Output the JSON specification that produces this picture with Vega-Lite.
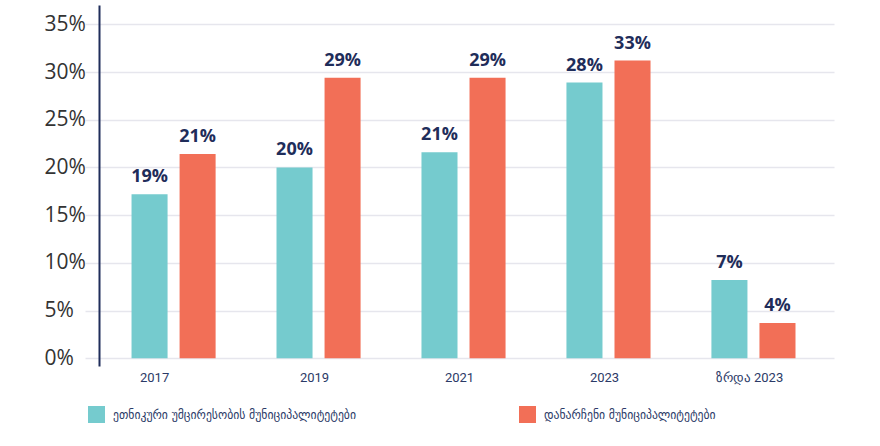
{
  "$schema": "https://vega.github.io/schema/vega-lite/v6.json",
  "autosize": {"type": "none"},
  "width": 735,
  "height": 361,
  "padding": {"left": 99, "top": 5, "right": 46, "bottom": 80},
  "background": "white",
  "config": {"view": {"stroke": null}},
  "data": {
    "values": [
      {"category": "2017", "group": "ეთნიკური უმცირესობის მუნიციპალიტეტები", "value": 17.2, "label": "19%"},
      {"category": "2017", "group": "დანარჩენი მუნიციპალიტეტები", "value": 21.4, "label": "21%"},
      {"category": "2019", "group": "ეთნიკური უმცირესობის მუნიციპალიტეტები", "value": 20.0, "label": "20%"},
      {"category": "2019", "group": "დანარჩენი მუნიციპალიტეტები", "value": 29.4, "label": "29%"},
      {"category": "2021", "group": "ეთნიკური უმცირესობის მუნიციპალიტეტები", "value": 21.6, "label": "21%"},
      {"category": "2021", "group": "დანარჩენი მუნიციპალიტეტები", "value": 29.4, "label": "29%"},
      {"category": "2023", "group": "ეთნიკური უმცირესობის მუნიციპალიტეტები", "value": 28.9, "label": "28%"},
      {"category": "2023", "group": "დანარჩენი მუნიციპალიტეტები", "value": 31.2, "label": "33%"},
      {"category": "ზრდა 2023", "group": "ეთნიკური უმცირესობის მუნიციპალიტეტები", "value": 8.2, "label": "7%"},
      {"category": "ზრდა 2023", "group": "დანარჩენი მუნიციპალიტეტები", "value": 3.7, "label": "4%"}
    ]
  },
  "encoding": {
    "x": {
      "field": "category",
      "type": "nominal",
      "sort": null,
      "scale": {"paddingInner": 0.42, "paddingOuter": 0.245, "align": 0.458},
      "axis": {
        "title": null,
        "labelAngle": 0,
        "domain": false,
        "ticks": false,
        "grid": false,
        "labelPadding": 5,
        "labelFont": "Roboto",
        "labelFontSize": 13,
        "labelColor": "#2b3a67",
        "labelOffset": {"condition": {"test": "datum.value === '2017'", "value": -19}, "value": -4}
      }
    },
    "xOffset": {
      "field": "group",
      "type": "nominal",
      "sort": ["ეთნიკური უმცირესობის მუნიციპალიტეტები", "დანარჩენი მუნიციპალიტეტები"],
      "scale": {"paddingInner": 0.25, "paddingOuter": 0}
    },
    "y": {
      "field": "value",
      "type": "quantitative",
      "scale": {"domain": [-0.81, 37.03], "nice": false, "zero": false},
      "axis": {
        "title": null,
        "values": [0, 5, 10, 15, 20, 25, 30, 35],
        "labelExpr": "datum.value + '%'",
        "grid": true,
        "gridColor": "#e6e6ed",
        "gridWidth": 1.5,
        "domain": true,
        "domainColor": "#1f2d5a",
        "domainWidth": 2,
        "ticks": true,
        "tickColor": "#e6e6ed",
        "tickWidth": 1.5,
        "tickSize": 14,
        "labelAlign": "left",
        "labelPadding": 41,
        "labelFont": "Open Sans",
        "labelFontSize": 21,
        "labelColor": "#333333"
      }
    }
  },
  "layer": [
    {
      "mark": {"type": "bar"},
      "encoding": {
        "color": {
          "field": "group",
          "type": "nominal",
          "scale": {
            "domain": ["ეთნიკური უმცირესობის მუნიციპალიტეტები", "დანარჩენი მუნიციპალიტეტები"],
            "range": ["#75cbce", "#f26f57"]
          },
          "legend": {
            "title": null,
            "orient": "none",
            "legendX": -11,
            "legendY": 401,
            "direction": "horizontal",
            "symbolType": "square",
            "symbolSize": 289,
            "symbolStrokeWidth": 0,
            "labelFont": "DejaVu Sans Condensed",
            "labelFontSize": 13,
            "labelColor": "#2b3a67",
            "labelOffset": 8,
            "labelLimit": 400,
            "columnPadding": 163
          }
        }
      }
    },
    {
      "mark": {
        "type": "text",
        "dy": -12,
        "baseline": "alphabetic",
        "font": "Open Sans",
        "fontWeight": "bold",
        "fontSize": 18,
        "color": "#1f2d5a"
      },
      "encoding": {
        "text": {"field": "label"}
      }
    }
  ]
}
